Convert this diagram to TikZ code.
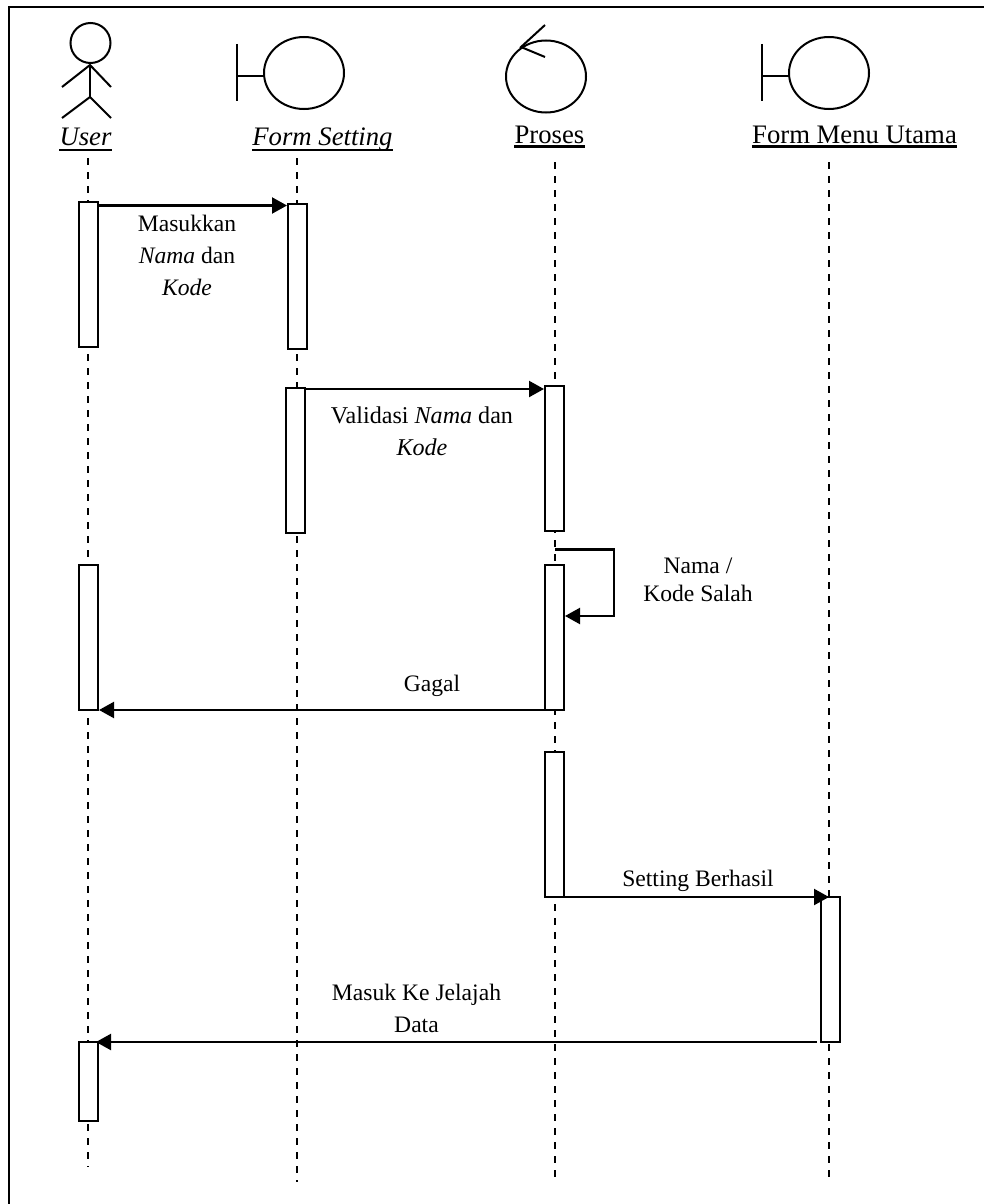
\documentclass[tikz,border=0pt]{standalone}
\usepackage{fontspec}
\setmainfont{Liberation Serif}
\usetikzlibrary{arrows.meta}
\tikzset{
  glyph/.style={line width=2pt,black},
  frameline/.style={line width=2.2pt,black},
  lifeline/.style={line width=2.2pt,black,dash pattern=on 7pt off 7pt},
  activation/.style={draw=black,fill=white,line width=2.2pt,minimum width=19pt,inner sep=0pt,outer sep=0pt},
  msg/.style={line width=2.2pt,black,-{Triangle[length=15pt,width=16pt]}},
  head/.style={font=\fontsize{26.7}{30}\selectfont,inner sep=0pt,anchor=base},
  lbl/.style={font=\fontsize{23.6}{32}\selectfont,inner sep=0pt,align=center,anchor=center},
  ul/.style={line width=2.2pt,black}
}
\begin{document}
\begin{tikzpicture}[x=1pt,y=-1pt]
\useasboundingbox (0,0) rectangle (984,1204);
\fill[white] (0,0) rectangle (984,1204);
% frame (open at the right and bottom edges)
\coordinate (fbl) at (9,1204);
\coordinate (ftl) at (9,7);
\coordinate (ftr) at (984,7);
\draw[frameline] (fbl) -- (ftl) -- (ftr);
% actor
\draw[glyph] (90.5,43) circle (20);
\draw[glyph] (90,65) -- (90,97);
\draw[glyph] (62,87) -- (90,65) -- (111,87);
\draw[glyph] (62,118) -- (90,97) -- (111,118);
% boundary 1
\draw[glyph] (237,44) -- (237,101);
\draw[glyph] (237,76) -- (264,76);
\draw[glyph] (304,73) ellipse (40 and 36);
% control
\draw[glyph] (546,76.5) ellipse (40 and 36);
\draw[glyph] (545,25) -- (521,47) -- (545,57);
% boundary 2
\draw[glyph] (762,44) -- (762,101);
\draw[glyph] (762,76) -- (789,76);
\draw[glyph] (829,73) ellipse (40 and 36);
% headings
\node[head] (hu) at (85.5,146) {\itshape User};
\node[head] (hf) at (322.5,146) {\itshape Form Setting};
\node[head] (hp) at (549.5,143) {Proses};
\node[head] (hm) at (854.5,143) {Form Menu Utama};
\draw[ul] ([yshift=-4pt]hu.base west) -- ([yshift=-4pt]hu.base east);
\draw[ul] ([yshift=-4pt]hf.base west) -- ([yshift=-4pt]hf.base east);
\draw[ul] ([yshift=-3.5pt]hp.base west) -- ([yshift=-3.5pt]hp.base east);
\draw[ul] ([yshift=-3.5pt]hm.base west) -- ([yshift=-3.5pt]hm.base east);
% lifelines
\coordinate (lut) at (88,158);  \coordinate (lub) at (88,1167);
\coordinate (lft) at (297,158); \coordinate (lfb) at (297,1182);
\coordinate (lpt) at (555,162); \coordinate (lpb) at (555,1182);
\coordinate (lmt) at (829,162); \coordinate (lmb) at (829,1178);
\draw[lifeline] (lut) -- (lub);
\draw[lifeline] (lft) -- (lfb);
\draw[lifeline] (lpt) -- (lpb);
\draw[lifeline] (lmt) -- (lmb);
% activations
\node[activation,minimum height=145pt] (a1) at (88.5,274.5) {};
\node[activation,minimum height=145pt] (a2) at (297.5,276.5) {};
\node[activation,minimum height=145pt] (a3) at (295.5,460.5) {};
\node[activation,minimum height=145pt] (a4) at (554.5,458.5) {};
\node[activation,minimum height=145pt] (a5) at (554.5,637.5) {};
\node[activation,minimum height=145pt] (a6) at (88.5,637.5) {};
\node[activation,minimum height=145pt] (a7) at (554.5,824.5) {};
\node[activation,minimum height=145pt] (a8) at (830.5,969.5) {};
\node[activation,minimum height=79pt] (a9) at (88.5,1081.5) {};
% messages
\draw[msg] ([yshift=-3.5pt]a1.north east) -- ([xshift=-1pt,yshift=-1.5pt]a2.north west);
\draw[msg] ([xshift=1pt,yshift=-1pt]a3.north east) -- ([xshift=-1pt,yshift=-3pt]a4.north west);
\coordinate (selfa) at (555,549.5);
\coordinate (selfb) at (614,549.5);
\draw[msg] (selfa) -- (selfb) |- ([xshift=1pt,yshift=-51pt]a5.north east);
\draw[msg] (a5.south west) -- ([xshift=1pt]a6.south east);
\draw[msg] (a7.south east) -- (lmt |- a8.north);
\coordinate (retstart) at (817,1042);
\draw[msg] (retstart) -- ([xshift=-2pt]a9.north east);
% labels
\node[lbl] (t1) at (187,255.5) {Masukkan\\\textit{Nama} dan\\\textit{Kode}};
\node[lbl,font=\fontsize{24.1}{32}\selectfont] (t2) at (422,431.5) {Validasi \textit{Nama} dan\\\textit{Kode}};
\node[lbl,font=\fontsize{23.6}{28}\selectfont] (t3) at (698,580) {Nama /\\Kode Salah};
\node[lbl] (t4) at (432,686) {Gagal};
\node[lbl] (t5) at (698,881) {Setting Berhasil};
\node[lbl] (t6) at (416.5,1008) {Masuk Ke Jelajah\\Data};
\end{tikzpicture}
\end{document}
